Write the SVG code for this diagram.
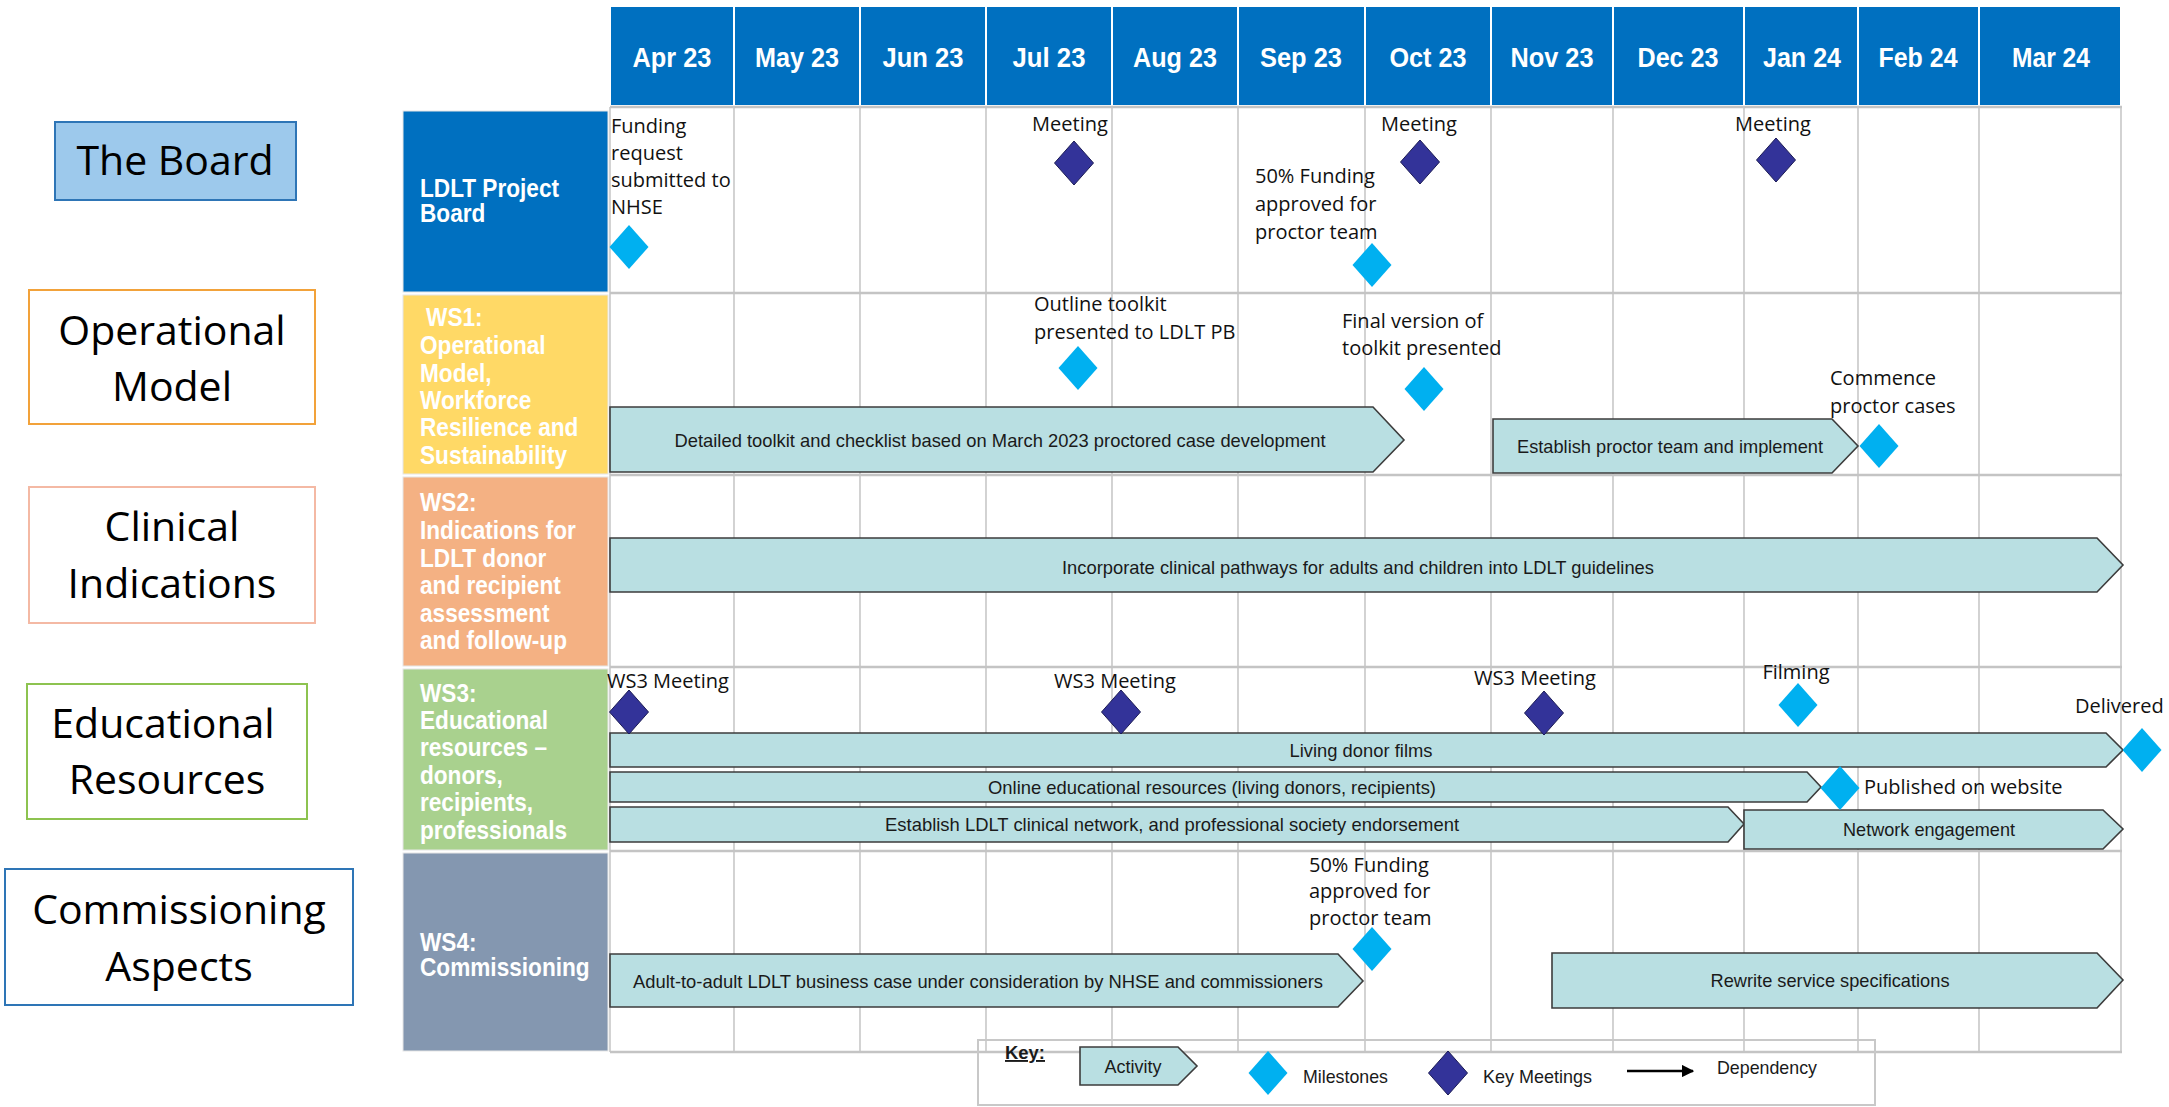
<svg xmlns="http://www.w3.org/2000/svg" width="2169" height="1107" viewBox="0 0 2169 1107">
<defs>
<style>
.bg{fill:#fff}
.hgrid{stroke:#C4C4C4;stroke-width:2.5;fill:none}
.vgrid{stroke:#C8C8C8;stroke-width:1.6;fill:none}
.month rect{fill:#0070C0;stroke:#fff;stroke-width:2}
.month text{font-family:"Liberation Sans",Arial,sans-serif;font-weight:bold;font-size:28px;fill:#fff;text-anchor:middle}
.rowhead rect{stroke:#E6E6E6;stroke-width:1}
.rowhead text{font-family:"Liberation Sans",Arial,sans-serif;font-weight:bold;font-size:26px;fill:#fff}
.bar polygon{fill:#B9DFE2;stroke:#3C3C3C;stroke-width:1.6}
.bar text{font-family:"Liberation Sans",Arial,sans-serif;font-size:19px;fill:#1a1a1a;text-anchor:middle}
.ms{fill:#00B0F0}
.km{fill:#333399;stroke:#1C1C55;stroke-width:1}
.lbl{font-family:"Open Sans","Noto Sans",sans-serif;font-size:20px;fill:#111}
.side rect{fill:#fff;stroke-width:2}
.side text{font-family:"Open Sans","Noto Sans",sans-serif;font-size:41px;fill:#000;text-anchor:middle}
.key text{font-family:"Liberation Sans",Arial,sans-serif;font-size:19px;fill:#1a1a1a}
</style>
<path id="dia" d="M0,-22 L19.5,0 L0,22 L-19.5,0 Z"/>
<marker id="arr" viewBox="0 0 10 10" refX="9" refY="5" markerWidth="5" markerHeight="5" orient="auto" markerUnits="strokeWidth">
<path d="M0,0 L10,5 L0,10 Z" fill="#000"/>
</marker>
</defs>
<rect class="bg" x="0" y="0" width="2169" height="1107"/>

<!-- Left side labels -->
<g id="side-board" class="side">
<rect x="55" y="122" width="241" height="78" style="fill:#9DC9EC;stroke:#2E75B6"/>
<text x="175" y="175">The Board</text>
</g>
<g id="side-operational" class="side">
<rect x="29" y="290" width="286" height="134" style="stroke:#F2A23A"/>
<text x="172" y="345">Operational</text>
<text x="172" y="401">Model</text>
</g>
<g id="side-clinical" class="side">
<rect x="29" y="487" width="286" height="136" style="stroke:#F4B9A4"/>
<text x="172" y="541">Clinical</text>
<text x="172" y="598">Indications</text>
</g>
<g id="side-educational" class="side">
<rect x="27" y="684" width="280" height="135" style="stroke:#8DC350"/>
<text x="163" y="738">Educational</text>
<text x="167" y="794">Resources</text>
</g>
<g id="side-commissioning" class="side">
<rect x="5" y="869" width="348" height="136" style="stroke:#2E75B6"/>
<text x="179" y="924">Commissioning</text>
<text x="179" y="981">Aspects</text>
</g>

<!-- Month header -->
<g id="months" class="month">
<rect x="610" y="6" width="124" height="100"/><text x="672" y="67" textLength="79" lengthAdjust="spacingAndGlyphs">Apr 23</text>
<rect x="734" y="6" width="126" height="100"/><text x="797" y="67" textLength="84" lengthAdjust="spacingAndGlyphs">May 23</text>
<rect x="860" y="6" width="126" height="100"/><text x="923" y="67" textLength="81" lengthAdjust="spacingAndGlyphs">Jun 23</text>
<rect x="986" y="6" width="126" height="100"/><text x="1049" y="67" textLength="73" lengthAdjust="spacingAndGlyphs">Jul 23</text>
<rect x="1112" y="6" width="126" height="100"/><text x="1175" y="67" textLength="84" lengthAdjust="spacingAndGlyphs">Aug 23</text>
<rect x="1238" y="6" width="127" height="100"/><text x="1301" y="67" textLength="82" lengthAdjust="spacingAndGlyphs">Sep 23</text>
<rect x="1365" y="6" width="126" height="100"/><text x="1428" y="67" textLength="77" lengthAdjust="spacingAndGlyphs">Oct 23</text>
<rect x="1491" y="6" width="122" height="100"/><text x="1552" y="67" textLength="83" lengthAdjust="spacingAndGlyphs">Nov 23</text>
<rect x="1613" y="6" width="131" height="100"/><text x="1678" y="67" textLength="81" lengthAdjust="spacingAndGlyphs">Dec 23</text>
<rect x="1744" y="6" width="114" height="100"/><text x="1802" y="67" textLength="78" lengthAdjust="spacingAndGlyphs">Jan 24</text>
<rect x="1858" y="6" width="121" height="100"/><text x="1918" y="67" textLength="79" lengthAdjust="spacingAndGlyphs">Feb 24</text>
<rect x="1979" y="6" width="142" height="100"/><text x="2051" y="67" textLength="78" lengthAdjust="spacingAndGlyphs">Mar 24</text>
</g>

<!-- Row headers -->
<g id="row-board" class="rowhead">
<rect x="403" y="111" width="205" height="181" fill="#0070C0"/>
<g transform="translate(420,0) scale(0.87,1)">
<text x="0" y="197">LDLT Project</text>
<text x="0" y="222">Board</text>
</g>
</g>
<g id="row-ws1" class="rowhead">
<rect x="403" y="295" width="205" height="179" fill="#FFD966"/>
<g transform="translate(420,0) scale(0.87,1)">
<text x="7" y="326">WS1:</text>
<text x="0" y="354">Operational</text>
<text x="0" y="382">Model,</text>
<text x="0" y="409">Workforce</text>
<text x="0" y="436">Resilience and</text>
<text x="0" y="464">Sustainability</text>
</g>
</g>
<g id="row-ws2" class="rowhead">
<rect x="403" y="477" width="205" height="189" fill="#F4B183"/>
<g transform="translate(420,0) scale(0.87,1)">
<text x="0" y="511">WS2:</text>
<text x="0" y="539">Indications for</text>
<text x="0" y="567">LDLT donor</text>
<text x="0" y="594">and recipient</text>
<text x="0" y="622">assessment</text>
<text x="0" y="649">and follow-up</text>
</g>
</g>
<g id="row-ws3" class="rowhead">
<rect x="403" y="669" width="205" height="181" fill="#A9D18E"/>
<g transform="translate(420,0) scale(0.87,1)">
<text x="0" y="702">WS3:</text>
<text x="0" y="729">Educational</text>
<text x="0" y="756">resources –</text>
<text x="0" y="784">donors,</text>
<text x="0" y="811">recipients,</text>
<text x="0" y="839">professionals</text>
</g>
</g>
<g id="row-ws4" class="rowhead">
<rect x="403" y="853" width="205" height="198" fill="#8497B0"/>
<g transform="translate(420,0) scale(0.87,1)">
<text x="0" y="951">WS4:</text>
<text x="0" y="976">Commissioning</text>
</g>
</g>

<!-- Grid -->
<g id="grid">
<path class="vgrid" d="M610,107V1052 M734,107V1052 M860,107V1052 M986,107V1052 M1112,107V1052 M1238,107V1052 M1365,107V1052 M1491,107V1052 M1613,107V1052 M1744,107V1052 M1858,107V1052 M1979,107V1052 M2121,107V1052"/>
<path class="hgrid" d="M610,107H2122 M610,293H2122 M610,475H2122 M610,667H2122 M610,851H2122 M610,1052H2122"/>
</g>

<!-- Key box -->
<g id="key" class="key">
<rect x="978" y="1040" width="897" height="65" fill="none" stroke="#C8C8C8" stroke-width="2"/>
<text x="1005" y="1059" font-weight="bold" text-decoration="underline" textLength="40" lengthAdjust="spacingAndGlyphs">Key:</text>
<g class="bar"><polygon points="1080,1047 1178,1047 1197,1066 1178,1085 1080,1085"/><text x="1133" y="1073" textLength="57" lengthAdjust="spacingAndGlyphs">Activity</text></g>
<use href="#dia" class="ms" transform="translate(1268,1073)"/>
<text x="1303" y="1083" textLength="85" lengthAdjust="spacingAndGlyphs">Milestones</text>
<use href="#dia" class="km" transform="translate(1448,1073)"/>
<text x="1483" y="1083" textLength="109" lengthAdjust="spacingAndGlyphs">Key Meetings</text>
<text x="1717" y="1074" textLength="100" lengthAdjust="spacingAndGlyphs">Dependency</text>
</g>

<!-- Activity bars -->
<g id="bar-toolkit" class="bar"><polygon points="610,407 1373,407 1404,440 1373,472 610,472"/><text x="1000" y="447" textLength="651" lengthAdjust="spacingAndGlyphs">Detailed toolkit and checklist based on March 2023 proctored case development</text></g>
<g id="bar-proctor" class="bar"><polygon points="1493,419 1832,419 1858,446 1832,473 1493,473"/><text x="1670" y="453" textLength="306" lengthAdjust="spacingAndGlyphs">Establish proctor team and implement</text></g>
<g id="bar-pathways" class="bar"><polygon points="610,538 2097,538 2123,565 2097,592 610,592"/><text x="1358" y="574" textLength="592" lengthAdjust="spacingAndGlyphs">Incorporate clinical pathways for adults and children into LDLT guidelines</text></g>
<g id="bar-films" class="bar"><polygon points="610,733 2106,733 2123,750 2106,767 610,767"/><text x="1361" y="757" textLength="143" lengthAdjust="spacingAndGlyphs">Living donor films</text></g>
<g id="bar-online" class="bar"><polygon points="610,772 1807,772 1821,787 1807,802 610,802"/><text x="1212" y="794" textLength="448" lengthAdjust="spacingAndGlyphs">Online educational resources (living donors, recipients)</text></g>
<g id="bar-network" class="bar"><polygon points="610,807 1728,807 1744,824 1728,842 610,842"/><text x="1172" y="831" textLength="574" lengthAdjust="spacingAndGlyphs">Establish LDLT clinical network, and professional society endorsement</text></g>
<g id="bar-engagement" class="bar"><polygon points="1744,810 2103,810 2123,829 2103,849 1744,849"/><text x="1929" y="836" textLength="172" lengthAdjust="spacingAndGlyphs">Network engagement</text></g>
<g id="bar-business" class="bar"><polygon points="610,954 1338,954 1363,981 1338,1007 610,1007"/><text x="978" y="988" textLength="690" lengthAdjust="spacingAndGlyphs">Adult-to-adult LDLT business case under consideration by NHSE and commissioners</text></g>
<g id="bar-rewrite" class="bar"><polygon points="1552,953 2097,953 2123,980 2097,1008 1552,1008"/><text x="1830" y="987" textLength="239" lengthAdjust="spacingAndGlyphs">Rewrite service specifications</text></g>

<!-- Milestones and meetings -->
<g id="ms-funding-request"><text class="lbl" x="611" y="133">Funding</text><text class="lbl" x="611" y="160">request</text><text class="lbl" x="611" y="187">submitted to</text><text class="lbl" x="611" y="214">NHSE</text><use href="#dia" class="ms" transform="translate(629,247)"/></g>
<g id="km-board-jul"><text class="lbl" x="1070" y="131" text-anchor="middle">Meeting</text><use href="#dia" class="km" transform="translate(1074,163)"/></g>
<g id="ms-funding-approved-1"><text class="lbl" x="1255" y="183">50% Funding</text><text class="lbl" x="1255" y="211">approved for</text><text class="lbl" x="1255" y="239">proctor team</text><use href="#dia" class="ms" transform="translate(1372,265)"/></g>
<g id="km-board-oct"><text class="lbl" x="1419" y="131" text-anchor="middle">Meeting</text><use href="#dia" class="km" transform="translate(1420,162)"/></g>
<g id="km-board-jan"><text class="lbl" x="1773" y="131" text-anchor="middle">Meeting</text><use href="#dia" class="km" transform="translate(1776,160)"/></g>
<g id="ms-outline-toolkit"><text class="lbl" x="1034" y="311">Outline toolkit</text><text class="lbl" x="1034" y="339">presented to LDLT PB</text><use href="#dia" class="ms" transform="translate(1078,368)"/></g>
<g id="ms-final-toolkit"><text class="lbl" x="1342" y="328">Final version of</text><text class="lbl" x="1342" y="355">toolkit presented</text><use href="#dia" class="ms" transform="translate(1424,389)"/></g>
<g id="ms-commence"><text class="lbl" x="1830" y="385">Commence</text><text class="lbl" x="1830" y="413">proctor cases</text><use href="#dia" class="ms" transform="translate(1879,446)"/></g>
<g id="km-ws3-apr"><text class="lbl" x="607" y="688">WS3 Meeting</text><use href="#dia" class="km" transform="translate(629,712)"/></g>
<g id="km-ws3-aug"><text class="lbl" x="1115" y="688" text-anchor="middle">WS3 Meeting</text><use href="#dia" class="km" transform="translate(1121,712)"/></g>
<g id="km-ws3-nov"><text class="lbl" x="1535" y="685" text-anchor="middle">WS3 Meeting</text><use href="#dia" class="km" transform="translate(1544,713)"/></g>
<g id="ms-filming"><text class="lbl" x="1796" y="679" text-anchor="middle">Filming</text><use href="#dia" class="ms" transform="translate(1798,705)"/></g>
<g id="ms-delivered"><text class="lbl" x="2075" y="713">Delivered</text><use href="#dia" class="ms" transform="translate(2142,750)"/></g>
<g id="ms-published"><use href="#dia" class="ms" transform="translate(1840,788)"/><text class="lbl" x="1864" y="794">Published on website</text></g>
<g id="ms-funding-approved-2"><text class="lbl" x="1309" y="872">50% Funding</text><text class="lbl" x="1309" y="898">approved for</text><text class="lbl" x="1309" y="925">proctor team</text><use href="#dia" class="ms" transform="translate(1372,949)"/></g>

<!-- Connectors (legend sample) -->
<g id="connectors">
<line x1="1627" y1="1071" x2="1693" y2="1071" stroke="#000" stroke-width="2.5" marker-end="url(#arr)"/>
</g>
</svg>
